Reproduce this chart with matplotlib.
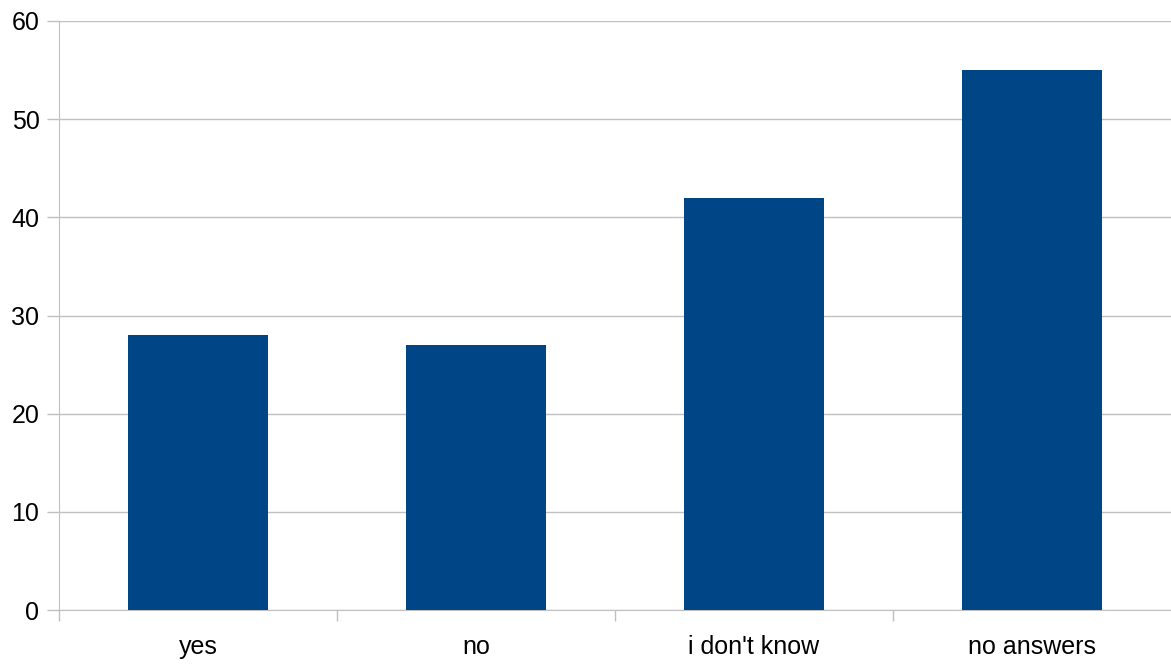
import matplotlib.pyplot as plt
import numpy as np

categories = ["yes", "no", "i don't know", "no answers"]
values = [28, 27, 42, 55]
y_ticks = [0, 10, 20, 30, 40, 50, 60]

plt.rcParams['font.family'] = ['Liberation Sans', 'DejaVu Sans']

fig = plt.figure(figsize=(11.71, 6.64), dpi=100)
ax = fig.add_axes([59 / 1171, 54 / 664, 1 - 59 / 1171, 589 / 664])

x = np.arange(len(categories))
ax.bar(x, values, width=0.504, color='#004586', zorder=3)

ax.set_xlim(-0.5, len(categories) - 0.5)
ax.set_ylim(0, 60)
ax.set_yticks(y_ticks)
ax.set_yticklabels([str(v) for v in y_ticks], fontsize=18)
ax.set_xticks(x)
ax.set_xticklabels(categories, fontsize=18)
ax.set_xticks(np.arange(-0.5, len(categories) - 0.5, 1.0), minor=True)

gray = '#c0c0c0'
ax.grid(axis='y', color=gray, linewidth=1, zorder=0)
# tick lengths/pads are in points (dpi 100 -> 0.72 pt per px)
ax.tick_params(axis='x', which='major', length=0, pad=18)
ax.tick_params(axis='x', which='minor', length=8, color=gray, width=1)
ax.tick_params(axis='y', length=8.6, color=gray, width=1, pad=5.5)

for side in ['top', 'right']:
    ax.spines[side].set_visible(False)
ax.spines['left'].set_color(gray)
ax.spines['bottom'].set_color(gray)

fig.savefig('out.png', dpi=100)
